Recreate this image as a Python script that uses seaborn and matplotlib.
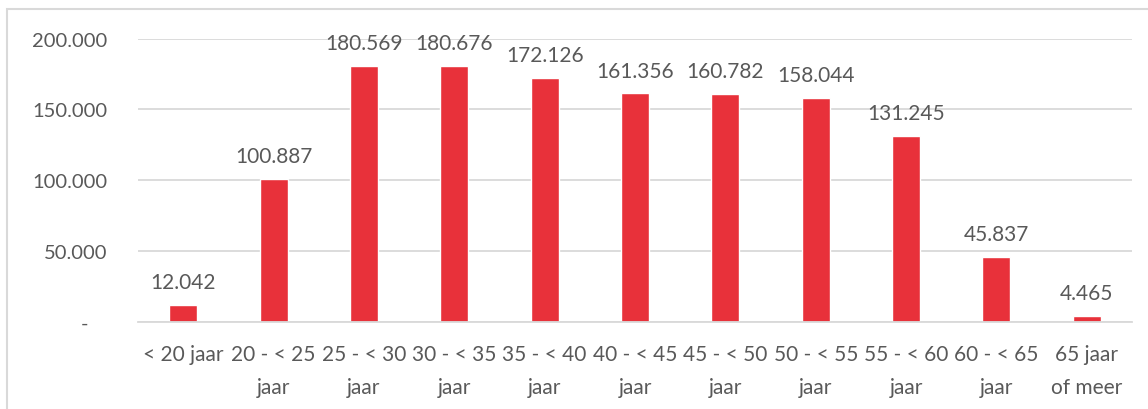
import matplotlib
matplotlib.use("Agg")
import matplotlib.pyplot as plt
from matplotlib.patches import Rectangle
import pandas as pd
import seaborn as sns

# age groups and counts
categories = [
    "< 20 jaar", "20 - < 25\njaar", "25 - < 30\njaar", "30 - < 35\njaar",
    "35 - < 40\njaar", "40 - < 45\njaar", "45 - < 50\njaar", "50 - < 55\njaar",
    "55 - < 60\njaar", "60 - < 65\njaar", "65 jaar\nof meer",
]
values = [12042, 100887, 180569, 180676, 172126, 161356,
          160782, 158044, 131245, 45837, 4465]
y_ticks = [0, 50000, 100000, 150000, 200000]
y_tick_labels = ["-", "50.000", "100.000", "150.000", "200.000"]

BAR_COLOR = "#E8313A"
TEXT_COLOR = "#595959"
GRID_COLOR = "#D9D9D9"


def fmt(v):
    return f"{v:,}".replace(",", ".")


sns.set_theme(style="white")
plt.rcParams["font.family"] = ["Lato", "DejaVu Sans"]

df = pd.DataFrame({"leeftijd": categories, "aantal": values})

fig = plt.figure(figsize=(11.48, 4.10), dpi=100)
ax = fig.add_axes([138 / 1148, 1 - 323 / 410, (1132 - 138) / 1148, (323 - 39.5) / 410])

sns.barplot(data=df, x="leeftijd", y="aantal", color=BAR_COLOR,
            width=0.31, saturation=1, ax=ax)

ax.set_ylim(0, 200000)
ax.set_yticks(y_ticks)
ax.set_yticklabels(y_tick_labels)
ax.set_xlabel("")
ax.set_ylabel("")

ax.yaxis.grid(True, color=GRID_COLOR, linewidth=1.3)
ax.set_axisbelow(True)
for side in ["top", "left", "right"]:
    ax.spines[side].set_visible(False)
ax.spines["bottom"].set_color(GRID_COLOR)
ax.spines["bottom"].set_linewidth(1.3)

ax.tick_params(axis="both", length=0, labelcolor=TEXT_COLOR)
ax.tick_params(axis="y", pad=22, labelsize=14.5)
ax.tick_params(axis="x", pad=16, labelsize=15)
for lbl in ax.get_xticklabels():
    lbl.set_linespacing(1.8)
# the zero label sits further left, like Excel's accounting format
ax.yaxis.get_major_ticks()[0].set_pad(36)

for i, v in enumerate(values):
    ax.annotate(fmt(v), (i, v), xytext=(0, 12), textcoords="offset points",
                ha="center", va="baseline", fontsize=15, color=TEXT_COLOR)

fig.patches.append(Rectangle((7 / 1148, -0.05), 1.2, 1 - 10 / 410 + 0.05,
                             transform=fig.transFigure, fill=False,
                             edgecolor=GRID_COLOR, linewidth=1.5))

fig.savefig("out.png", dpi=100, facecolor="white")
